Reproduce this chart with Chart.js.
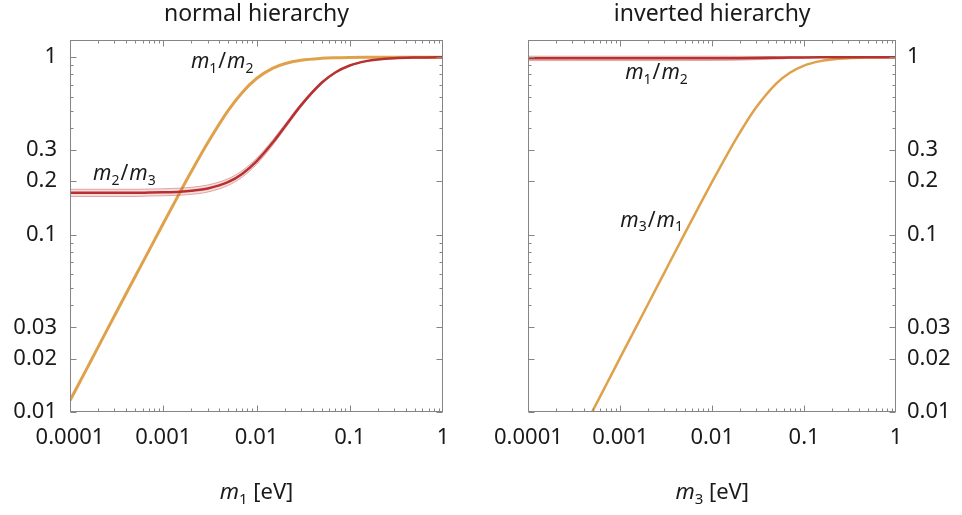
<!DOCTYPE html>
<html>
<head>
<meta charset="utf-8">
<script src="https://cdn.jsdelivr.net/npm/chart.js@4.4.1/dist/chart.umd.min.js"></script>
<style>
  html, body { margin: 0; padding: 0; background: #fff; }
  #wrap { position: relative; width: 962px; height: 515px; }
  canvas { position: absolute; top: 0; }
</style>
</head>
<body>
<div id="wrap">
  <canvas id="nh" width="481" height="515" style="left:0"></canvas>
  <canvas id="ih" width="481" height="515" style="left:481px"></canvas>
</div>
<script>
// lightest neutrino mass [eV], shared by every curve
const masses = [1e-4, 1.5e-4, 2e-4, 3e-4, 5e-4, 7e-4, 1e-3, 1.5e-3, 2e-3, 3e-3, 5e-3, 7e-3,
  0.01, 0.015, 0.02, 0.03, 0.05, 0.07, 0.1, 0.15, 0.2, 0.3, 0.5, 0.7, 1]

// normal hierarchy
const nh_m1m2 = [0.0116, 0.0174, 0.0232, 0.0349, 0.058, 0.081, 0.1155, 0.1718, 0.2265, 0.329, 0.5025, 0.631,
  0.758, 0.8675, 0.9187, 0.9613, 0.9855, 0.9925, 0.9963, 0.9984, 0.9991, 0.9996, 0.9998, 0.9999, 1.0]
const nh_m2m3 = [0.172, 0.172, 0.172, 0.172, 0.172, 0.1725, 0.1732, 0.1745, 0.1765, 0.1819, 0.198, 0.2197,
  0.2587, 0.3312, 0.4043, 0.5352, 0.7174, 0.8199, 0.8978, 0.9503, 0.9711, 0.9868, 0.9952, 0.9975, 0.9988]
const nh_m2m3_hi = [0.180, 0.180, 0.180, 0.180, 0.180, 0.1806, 0.1813, 0.1827, 0.1848, 0.1904, 0.2069, 0.2291,
  0.2690, 0.3428, 0.4164, 0.5470, 0.7260, 0.8256, 0.9014, 0.9522, 0.9721, 0.9873, 0.9954, 0.9976, 0.9988]
const nh_m2m3_lo = [0.164, 0.164, 0.164, 0.164, 0.164, 0.1649, 0.1654, 0.1667, 0.1686, 0.1737, 0.1895, 0.2106,
  0.2487, 0.3200, 0.3925, 0.5237, 0.7089, 0.8142, 0.8942, 0.9484, 0.9701, 0.9863, 0.9950, 0.9974, 0.9988]

// inverted hierarchy
const ih_m1m2 = [0.9851, 0.9851, 0.9851, 0.9851, 0.9851, 0.9851, 0.9851, 0.9851, 0.9851, 0.9851, 0.9852, 0.9853,
  0.9857, 0.9863, 0.9872, 0.9891, 0.9926, 0.9950, 0.9970, 0.9985, 0.9991, 0.9996, 0.9999, 1.0, 1.0]
const ih_m1m2_hi = [1.013, 1.013, 1.013, 1.013, 1.013, 1.013, 1.013, 1.013, 1.013, 1.013, 1.013, 1.013,
  1.013, 1.012, 1.011, 1.010, 1.008, 1.006, 1.004, 1.002, 1.001, 1.0005, 1.0, 1.0, 1.0]
const ih_m1m2_lo = [0.957, 0.957, 0.957, 0.957, 0.957, 0.957, 0.957, 0.957, 0.957, 0.957, 0.957, 0.958,
  0.958, 0.960, 0.963, 0.968, 0.977, 0.984, 0.990, 0.995, 0.997, 0.999, 1.0, 1.0, 1.0]
const ih_m3m1 = [0.00203, 0.00304, 0.00406, 0.00609, 0.01014, 0.0142, 0.0203, 0.0304, 0.0405, 0.0607, 0.1009, 0.1406,
  0.1988, 0.2911, 0.3759, 0.5199, 0.7121, 0.8176, 0.8969, 0.9500, 0.9709, 0.9868, 0.9952, 0.9975, 0.9988]

const xTicks = [1e-4, 1e-3, 1e-2, 0.1, 1]
const xTickLabels = ["0.0001", "0.001", "0.01", "0.1", "1"]
const yTicks = [0.01, 0.02, 0.03, 0.1, 0.2, 0.3, 1]
const yTickLabels = ["0.01", "0.02", "0.03", "0.1", "0.2", "0.3", "1"]

const FONT = "'Noto Sans', 'DejaVu Sans', sans-serif"
const INK = "#1a1a1a"
const FRAME = "#858585"
const RED = "#b83131"
const ORANGE = "#dfa14a"

function pts(ys) {
  return masses.map((m, i) => ({ x: m, y: ys[i] }))
}

function curve(ys, color, w) {
  return { data: pts(ys), borderColor: color, borderWidth: w, pointRadius: 0, fill: false,
    cubicInterpolationMode: "monotone" }
}

function band(ys, fill) {
  return { data: pts(ys), borderColor: "rgba(195,70,70,0.45)", borderWidth: 1, pointRadius: 0,
    fill: fill, backgroundColor: "rgba(210,90,90,0.2)", cubicInterpolationMode: "monotone" }
}

// m_a / m_b with italic m and subscripts, starting at (x, y) baseline
function drawRatio(ctx, x, y, a, b, size) {
  let cx = drawMass(ctx, x, y, a, size)
  ctx.font = size + "px " + FONT
  cx += 1
  ctx.fillText("/", cx, y)
  cx += ctx.measureText("/").width + 1
  drawMass(ctx, cx, y, b, size)
}

function drawMass(ctx, x, y, sub, size) {
  ctx.font = "italic " + size + "px " + FONT
  ctx.fillText("m", x, y)
  let cx = x + ctx.measureText("m").width
  const s = Math.round(size * 0.66)
  ctx.font = s + "px " + FONT
  ctx.fillText(sub, cx, y + size * 0.22)
  return cx + ctx.measureText(sub).width
}

const decor = {
  id: "decor",
  afterDatasetsDraw(chart, args, o) {
    const { ctx, chartArea: a, scales: { x, y } } = chart
    ctx.save()
    // frame
    ctx.strokeStyle = FRAME
    ctx.lineWidth = 1
    const L = Math.round(a.left) + 0.5, R = Math.round(a.right) - 0.5
    const T = Math.round(a.top) + 0.5, B = Math.round(a.bottom) - 0.5
    ctx.strokeRect(L, T, R - L, B - T)

    // inward ticks on all four sides
    ctx.beginPath()
    for (const d of [1e-4, 1e-3, 1e-2, 0.1]) {
      for (let k = 1; k <= 9; k++) {
        const px = Math.round(x.getPixelForValue(k * d)) + 0.5
        const len = k == 1 ? 6 : 3
        ctx.moveTo(px, B); ctx.lineTo(px, B - len)
        ctx.moveTo(px, T); ctx.lineTo(px, T + len)
      }
    }
    for (const d of [0.01, 0.1]) {
      for (let k = 1; k <= 9; k++) {
        const py = Math.round(y.getPixelForValue(k * d)) + 0.5
        const len = yTicks.includes(+(k * d).toFixed(3)) ? 6 : 3
        ctx.moveTo(L, py); ctx.lineTo(L + len, py)
        ctx.moveTo(R, py); ctx.lineTo(R - len, py)
      }
    }
    const p1 = Math.round(y.getPixelForValue(1)) + 0.5
    ctx.moveTo(L, p1); ctx.lineTo(L + 6, p1)
    ctx.moveTo(R, p1); ctx.lineTo(R - 6, p1)
    ctx.stroke()

    ctx.fillStyle = INK
    // panel title
    ctx.font = "23px " + FONT
    ctx.textAlign = "center"
    ctx.textBaseline = "middle"
    ctx.fillText(o.title, (a.left + a.right) / 2, 14)

    // axis title: m_i [eV]
    ctx.textAlign = "left"
    ctx.textBaseline = "alphabetic"
    ctx.font = "italic 22px " + FONT
    const wm = ctx.measureText("m").width
    ctx.font = "15px " + FONT
    const ws = ctx.measureText(o.axisSub).width
    ctx.font = "22px " + FONT
    const wr = ctx.measureText(" [eV]").width
    let sx = (a.left + a.right) / 2 - (wm + ws + wr) / 2
    sx = drawMass(ctx, sx, 499, o.axisSub, 22)
    ctx.font = "22px " + FONT
    ctx.fillText(" [eV]", sx, 499)

    // curve labels
    for (const n of o.notes) {
      drawRatio(ctx, x.getPixelForValue(n.x), y.getPixelForValue(n.y), n.a, n.b, 21)
    }
    ctx.restore()
  }
}

function makeChart(id, datasets, side, opts) {
  const left = side == "left"
  return new Chart(document.getElementById(id), {
    type: "line",
    data: { datasets: datasets },
    plugins: [decor],
    options: {
      responsive: false,
      animation: false,
      events: [],
      layout: { padding: { top: 40, left: left ? 0 : 41, right: left ? 38 : 0, bottom: 0 } },
      scales: {
        x: {
          type: "logarithmic", min: 1e-4, max: 1,
          afterBuildTicks: s => { s.ticks = xTicks.map(v => ({ value: v })) },
          afterFit: s => { s.height = 103 },
          grid: { display: false, drawTicks: false },
          border: { display: false },
          ticks: { autoSkip: false, maxRotation: 0, padding: 13, color: INK,
            font: { family: FONT, size: 22 },
            callback: (v, i) => xTickLabels[i] }
        },
        y: {
          type: "logarithmic", min: 0.01, max: 1.25, position: side,
          afterBuildTicks: s => { s.ticks = yTicks.map(v => ({ value: v })) },
          afterFit: s => { s.width = left ? 70 : 66 },
          grid: { display: false, drawTicks: false },
          border: { display: false },
          ticks: { autoSkip: false, padding: left ? 13 : 11, color: INK,
            font: { family: FONT, size: 22 },
            callback: (v, i) => yTickLabels[i] }
        }
      },
      plugins: {
        legend: { display: false },
        tooltip: { enabled: false },
        decor: opts
      }
    }
  })
}

// first dataset is drawn on top
makeChart("nh", [
  curve(nh_m2m3, RED, 2.5),
  band(nh_m2m3_hi, "+1"),
  band(nh_m2m3_lo, false),
  curve(nh_m1m2, ORANGE, 3)
], "left", {
  title: "normal hierarchy", axisSub: "1",
  notes: [
    { x: 1.98e-3, y: 0.864, a: "1", b: "2" },
    { x: 1.77e-4, y: 0.202, a: "2", b: "3" }
  ]
})

makeChart("ih", [
  curve(ih_m1m2, RED, 2.5),
  band(ih_m1m2_hi, "+1"),
  band(ih_m1m2_lo, false),
  curve(ih_m3m1, ORANGE, 2.5)
], "right", {
  title: "inverted hierarchy", axisSub: "3",
  notes: [
    { x: 1.13e-3, y: 0.749, a: "1", b: "2" },
    { x: 1.0e-3, y: 0.111, a: "3", b: "1" }
  ]
})
</script>
</body>
</html>
